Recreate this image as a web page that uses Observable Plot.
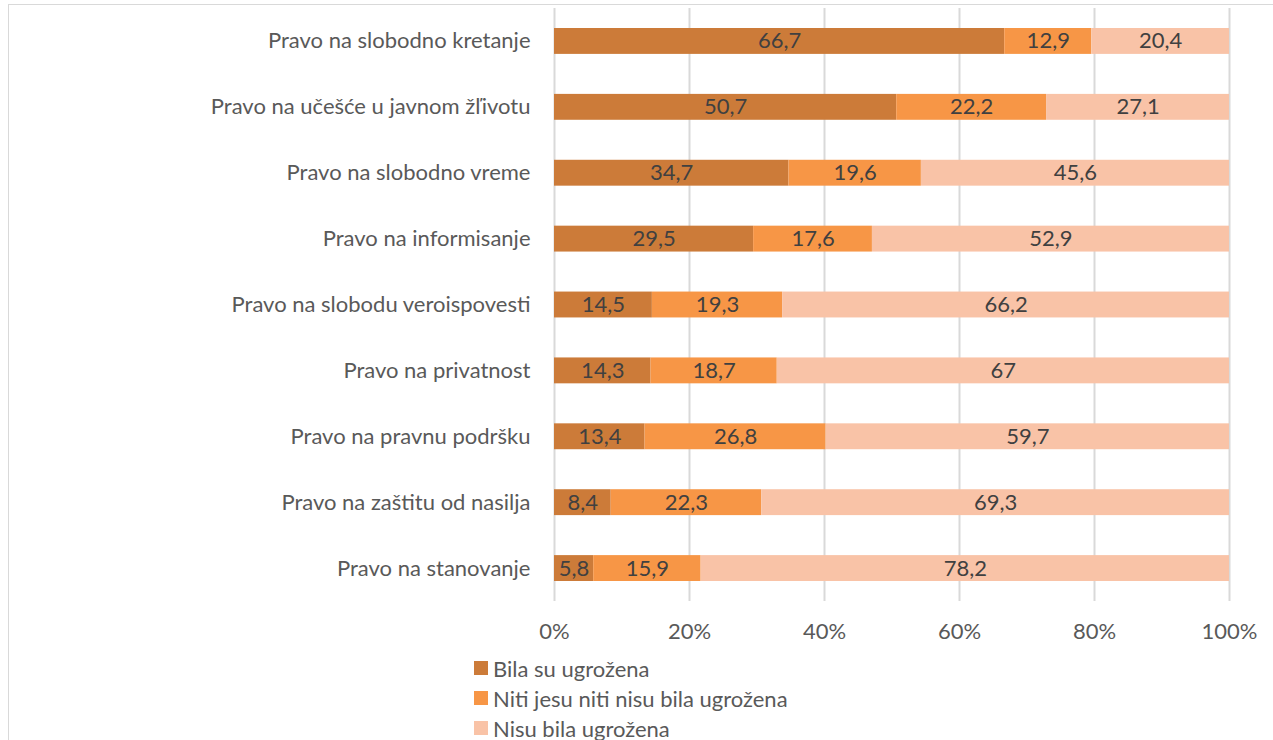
<!DOCTYPE html>
<html>
<head>
<meta charset="utf-8">
<script src="https://cdn.jsdelivr.net/npm/d3@7"></script>
<script src="https://cdn.jsdelivr.net/npm/@observablehq/plot@0.6"></script>
<style>
  html, body { margin: 0; padding: 0; background: #fff; overflow: hidden; }
  body { width: 1273px; height: 740px; position: relative; font-family: Lato, "Open Sans", sans-serif; }
  #frame { position: absolute; left: 8px; top: 4px; width: 1290px; height: 760px; border: 1.5px solid #d9d9d9; box-sizing: border-box; }
  #chart { position: absolute; left: 0; top: 0; }
  #legend { position: absolute; left: 474px; top: 653px; font-size: 22px; color: #595959; }
  .item { display: flex; align-items: center; height: 30px; }
  .sw { width: 14px; height: 14px; margin-right: 5px; }
</style>
</head>
<body>
<div id="frame"></div>
<div id="chart"></div>
<div id="legend"></div>
<script>
const categories = [
  "Pravo na slobodno kretanje",
  "Pravo na učešće u javnom žľivotu",
  "Pravo na slobodno vreme",
  "Pravo na informisanje",
  "Pravo na slobodu veroispovesti",
  "Pravo na privatnost",
  "Pravo na pravnu podršku",
  "Pravo na zaštitu od nasilja",
  "Pravo na stanovanje"
];
const seriesNames = ["Bila su ugrožena", "Niti jesu niti nisu bila ugrožena", "Nisu bila ugrožena"];
const bilaSu = [66.7, 50.7, 34.7, 29.5, 14.5, 14.3, 13.4, 8.4, 5.8];
const nitiNiti = [12.9, 22.2, 19.6, 17.6, 19.3, 18.7, 26.8, 22.3, 15.9];
const nisuBila = [20.4, 27.1, 45.6, 52.9, 66.2, 67, 59.7, 69.3, 78.2];
const xTicks = [0, 20, 40, 60, 80, 100];
const colors = ["#CC7B39", "#F79646", "#F9C3A7"];

const data = [];
[bilaSu, nitiNiti, nisuBila].forEach((arr, s) => {
  arr.forEach((v, i) => data.push({cat: categories[i], series: seriesNames[s], value: v}));
});

const fmt = v => String(v).replace(".", ",");
const FONT = "Lato, 'Open Sans', sans-serif";

const chart = Plot.plot({
  width: 1273,
  height: 651,
  marginLeft: 554,
  marginRight: 44,
  marginTop: 8,
  marginBottom: 50,
  style: {fontFamily: FONT, fontSize: "22px", color: "#595959", background: "transparent"},
  x: {domain: [0, 1], ticks: xTicks.map(t => t / 100), tickFormat: d => Math.round(d * 100) + "%", tickSize: 0, tickPadding: 22, label: null},
  y: {domain: categories, padding: 0, round: false, tickSize: 0, tickPadding: 24, label: null},
  color: {domain: seriesNames, range: colors},
  marks: [
    Plot.gridX(xTicks.map(t => t / 100), {stroke: "#d9d9d9", strokeOpacity: 1, strokeWidth: 2}),
    Plot.barX(data, Plot.stackX({x: "value", y: "cat", z: "series", fill: "series", order: null, offset: "normalize", insetTop: 20, insetBottom: 20})),
    Plot.text(data, Plot.stackX({x: "value", y: "cat", z: "series", order: null, offset: "normalize", text: d => fmt(d.value), fill: "#404040", fontSize: 22}))
  ]
});
document.getElementById("chart").appendChild(chart);

const legend = document.getElementById("legend");
seriesNames.forEach((n, i) => {
  const it = document.createElement("div");
  it.className = "item";
  const sw = document.createElement("div");
  sw.className = "sw";
  sw.style.background = colors[i];
  const t = document.createElement("span");
  t.textContent = n;
  it.appendChild(sw); it.appendChild(t);
  legend.appendChild(it);
});
</script>
</body>
</html>
